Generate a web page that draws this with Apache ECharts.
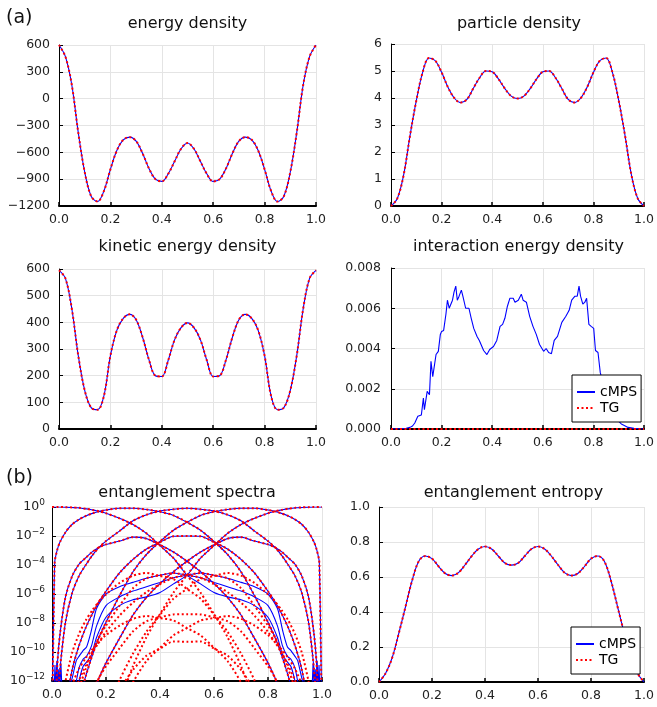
<!DOCTYPE html>
<html><head><meta charset="utf-8">
<script src="https://cdn.jsdelivr.net/npm/echarts@6/dist/echarts.min.js"></script>
<style>html,body{margin:0;padding:0;background:#fff}#c{width:657px;height:707px}</style>
</head><body><div id="c"></div>
<script>
// ---------- panel (a) data ----------
const xFine = [0,0.025,0.05,0.075,0.1,0.125,0.15,0.175,0.2,0.225,0.25,0.275,0.3,0.325,0.35,0.375,0.4,0.425,0.45,0.475,0.5,0.525,0.55,0.575,0.6,0.625,0.65,0.675,0.7,0.725,0.75,0.775,0.8,0.825,0.85,0.875,0.9,0.925,0.95,0.975,1];
const energyDensity = [600,470,150,-380,-820,-1090,-1150,-1030,-790,-580,-460,-430,-475,-610,-780,-900,-925,-840,-700,-560,-495,-560,-700,-840,-925,-900,-780,-610,-475,-430,-460,-580,-790,-1030,-1150,-1090,-820,-380,150,470,600];
const particleDensity = [0,0.28,1.15,2.6,3.9,4.95,5.48,5.38,4.95,4.4,4.0,3.83,3.95,4.35,4.75,5.0,4.97,4.7,4.35,4.07,3.98,4.07,4.35,4.7,4.97,5.0,4.75,4.35,3.95,3.83,4.0,4.4,4.95,5.38,5.48,4.95,3.9,2.6,1.15,0.28,0];
const kineticDensity = [595,565,450,275,145,80,72,125,275,370,415,430,410,345,260,200,197,258,335,380,398,380,335,258,197,200,260,345,410,430,415,370,275,125,72,80,145,275,450,565,595];
const entropy = [0,0.05,0.14,0.28,0.43,0.58,0.69,0.72,0.705,0.66,0.62,0.608,0.625,0.67,0.72,0.76,0.774,0.76,0.72,0.68,0.668,0.68,0.72,0.76,0.774,0.76,0.72,0.67,0.625,0.608,0.62,0.66,0.705,0.72,0.69,0.58,0.43,0.28,0.14,0.05,0];

const interX = [0,0.02,0.04,0.06,0.075,0.085,0.094,0.106,0.12,0.128,0.132,0.143,0.152,0.158,0.165,0.178,0.187,0.195,0.2,0.208,0.217,0.223,0.23,0.243,0.249,0.256,0.262,0.269,0.278,0.284,0.295,0.308,0.317,0.327,0.34,0.349,0.356,0.366,0.379,0.39,0.405,0.418,0.431,0.441,0.45,0.46,0.47,0.483,0.49,0.503,0.515,0.522,0.535,0.548,0.561,0.574,0.587,0.603,0.613,0.623,0.634,0.645,0.658,0.675,0.691,0.704,0.714,0.727,0.736,0.743,0.749,0.758,0.766,0.773,0.782,0.791,0.801,0.808,0.818,0.827,0.85,0.87,0.89,0.91,0.918,0.937,0.96,0.98,1.0];
const interCMPS = [0.00001,0.00001,0.00002,0.00004,0.00008,0.00015,0.0003,0.00063,0.0007,0.00154,0.00096,0.00187,0.0017,0.00336,0.0026,0.0037,0.00386,0.0047,0.00485,0.0049,0.0057,0.0064,0.006,0.0064,0.0068,0.0071,0.0064,0.0066,0.0069,0.0066,0.006,0.006,0.0055,0.005,0.0046,0.0044,0.0044,0.0039,0.0037,0.00395,0.0041,0.0044,0.0051,0.0052,0.0055,0.0061,0.0065,0.0065,0.0063,0.0064,0.0067,0.0064,0.0063,0.0056,0.0051,0.0047,0.0042,0.00386,0.004,0.0038,0.00374,0.0044,0.0046,0.0053,0.0056,0.0059,0.0064,0.0066,0.0066,0.0071,0.0066,0.0062,0.0063,0.0065,0.0052,0.0051,0.005,0.0039,0.0038,0.0028,0.0017,0.001,0.0005,0.00025,0.0002,0.00008,0.00003,0.00001,0];
const interTGx = [0,1];
const interTG = [0,0];

// ---------- panel (b) entanglement spectra: values are -log10(lambda) ----------
const specX = [0,0.01,0.02,0.03,0.05,0.075,0.1,0.125,0.15,0.175,0.2,0.25,0.3,0.35,0.4,0.45,0.5,0.55,0.6,0.65,0.7,0.75,0.8,0.825,0.85,0.875,0.9,0.925,0.95,0.97,0.98,0.99,1.0];
const tgE    = [0,0,0,0,0.01,0.03,0.06,0.12,0.2,0.3,0.43,0.78,1.21,1.82,2.66,3.53,4.70,5.90,7.38,8.97,10.97,13.52,16,16,16,16,16,16,16,16,16,16,16];
const tg1234 = [16,16,16,16,16,16,16,16,16,16,16,13.52,10.97,8.97,7.38,5.90,4.70,3.53,2.66,1.82,1.21,0.78,0.43,0.3,0.2,0.12,0.06,0.03,0.01,0,0,0,0];
const tg1    = [16,3.82,2.92,2.40,1.74,1.19,0.86,0.62,0.44,0.3,0.21,0.09,0.09,0.17,0.33,0.58,1.05,1.60,2.38,3.27,4.47,6.12,7.95,8.95,10.19,11.67,13.36,15.64,16,16,16,16,16];
const tg123  = [16,16,16,16,16,15.64,13.36,11.67,10.19,8.95,7.95,6.12,4.47,3.27,2.38,1.60,1.05,0.58,0.33,0.17,0.09,0.09,0.21,0.3,0.44,0.62,0.86,1.19,1.74,2.40,2.92,3.82,16];
const tg2    = [16,15,10.8,8.7,6.2,4.75,3.95,3.5,3.08,2.77,2.58,2.35,2.08,2.18,2.61,3.11,3.74,4.46,5.28,6.23,7.45,9.06,10.75,11.75,12.89,14.27,15.76,16,16,16,16,16,16];
const tg124  = [16,16,16,16,16,16,15.76,14.27,12.89,11.75,10.75,9.06,7.45,6.23,5.28,4.46,3.74,3.11,2.61,2.18,2.08,2.35,2.58,2.77,3.08,3.5,3.95,4.75,6.2,8.7,10.8,15,16];
const tg3    = [16,16,15.5,14,12.01,10.03,8.76,7.82,7.1,6.5,6.03,5.24,4.73,4.55,4.76,4.97,5.65,6.32,7.43,8.60,10.11,11.95,14.21,15.5,16,16,16,16,16,16,16,16,16];
const tg134  = [16,16,16,16,16,16,16,16,16,15.5,14.21,11.95,10.11,8.60,7.43,6.32,5.65,4.97,4.76,4.55,4.73,5.24,6.03,6.5,7.1,7.82,8.76,10.03,12.01,14,15.5,16,16];
const tg4    = [16,16,16,16,13.71,12.23,11.16,10.42,9.8,9.3,8.83,8.18,7.71,7.52,7.66,7.83,8.35,8.85,9.71,10.62,12.1,14.21,16,16,16,16,16,16,16,16,16,16,16];
const tg234  = [16,16,16,16,16,16,16,16,16,16,16,14.21,12.1,10.62,9.71,8.85,8.35,7.83,7.66,7.52,7.71,8.18,8.83,9.3,9.8,10.42,11.16,12.23,13.71,16,16,16,16];
const tg12   = [16,16,13.7,11.1,7.93,5.91,4.75,4.0,3.32,2.77,2.35,1.66,0.95,0.53,0.28,0.16,0.09,0.16,0.28,0.53,0.95,1.66,2.35,2.77,3.32,4.0,4.75,5.91,7.93,11.1,13.7,16,16];
const tg13   = [16,16,16,16,13.74,11.19,9.56,8.32,7.34,6.5,5.81,4.55,3.61,2.90,2.43,2.02,2.0,2.02,2.43,2.90,3.61,4.55,5.81,6.5,7.34,8.32,9.56,11.19,13.74,16,16,16,16];
const tg14   = [16,16,16,16,15.44,13.39,11.96,10.92,10.04,9.3,8.61,7.49,6.59,5.87,5.33,4.88,4.70,4.55,4.71,4.92,5.6,6.81,8.18,8.95,9.95,11.17,12.56,14.48,16,16,16,16,16];
const tg23   = [16,16,16,16,16,14.48,12.56,11.17,9.95,8.95,8.18,6.81,5.6,4.92,4.71,4.55,4.70,4.88,5.33,5.87,6.59,7.49,8.61,9.3,10.04,10.92,11.96,13.39,15.44,16,16,16,16];
const tg24   = [16,16,16,16,16,16,14.96,13.77,12.65,11.75,10.98,9.75,8.58,7.88,7.61,7.41,7.39,7.41,7.61,7.88,8.58,9.75,10.98,11.75,12.65,13.77,14.96,16,16,16,16,16,16];
const tg34   = [16,16,16,16,16,16,16,16,16,15.5,14.43,12.64,11.23,10.25,9.76,9.27,9.30,9.27,9.76,10.25,11.23,12.64,14.43,15.5,16,16,16,16,16,16,16,16,16];

// cMPS curves that leave the TG ones in the small-eigenvalue tails
const cmTailX = [0,0.05,0.072,0.09,0.1,0.115,0.128,0.146,0.165,0.2,0.25,0.3,0.35,0.4,0.45,0.5,0.55,0.6,0.65,0.7,0.75,0.8,0.835,0.854,0.872,0.885,0.9,0.91,0.928,0.95,1];
const cmE    = [0,0.01,0.03,0.05,0.06,0.1,0.13,0.19,0.26,0.43,0.78,1.21,1.82,2.66,3.53,4.70,5.3,5.9,6.2,6.4,6.8,7.6,9.0,10.2,10.7,11.0,12.0,13,16,16,16];
const cm1234 = [16,16,16,13,12.0,11.0,10.7,10.2,9.0,7.6,6.8,6.4,6.2,5.9,5.3,4.70,3.53,2.66,1.82,1.21,0.78,0.43,0.26,0.19,0.13,0.1,0.06,0.05,0.03,0.01,0];
const cm23   = [16,13,12,10.6,10.3,9.9,9.65,8.5,7.0,6.0,5.5,5.2,4.92,4.71,4.55,4.70,4.88,5.2,5.5,5.8,6.2,6.8,8.2,9.6,10.3,10.5,11.1,12,13,14,16];
const cm14   = [16,14,13,12,11.1,10.5,10.3,9.6,8.2,6.8,6.2,5.8,5.5,5.2,4.88,4.70,4.55,4.71,4.92,5.2,5.5,6.0,7.0,8.5,9.65,9.9,10.3,10.6,12,13,16];
const noiseLX = [0.008,0.011,0.014,0.018,0.021,0.025,0.029,0.033,0.037];
const noiseL  = [12.6,10.9,12.6,10.6,12.6,11.2,12.6,10.8,12.6];
const noiseRX = [0.963,0.967,0.971,0.975,0.979,0.982,0.986,0.989,0.992];
const noiseR  = [12.6,10.8,12.6,11.2,12.6,10.6,12.6,10.9,12.6];

const xTickStep = 0.2;

const FONT = '"DejaVu Sans", "Liberation Sans", sans-serif';
const BLUE = '#0000ff', RED = '#ff0000';
const chart = echarts.init(document.getElementById('c'), null, {renderer:'canvas'});

const grids = [
  {left:59, top:45, width:257, height:161},
  {left:391, top:44, width:257, height:162},
  {left:59, top:269, width:257, height:160},
  {left:391, top:268, width:257, height:161},
  {left:52, top:507, width:270, height:174},
  {left:379, top:507, width:269, height:175}
];

function xAx(i){
  return {type:'value', gridIndex:i, min:0, max:1, interval:xTickStep,
    axisLine:{show:true, onZero:false, lineStyle:{color:'#000', width:2}},
    axisTick:{show:true, inside:true, length:4, lineStyle:{color:'#000', width:1.5}},
    axisLabel:{fontFamily:FONT, fontSize:12.5, color:'#222', margin:7, formatter:v=>v.toFixed(1)},
    splitLine:{show:true, lineStyle:{color:'#e4e4e4', width:1}}};
}
function yAx(i, min, max, interval, fmt, margin, extra){
  return Object.assign({type:'value', gridIndex:i, min:min, max:max, interval:interval,
    axisLine:{show:true, onZero:false, lineStyle:{color:'#000', width:1}},
    axisTick:{show:true, inside:true, length:4, lineStyle:{color:'#000', width:1}},
    axisLabel:{fontFamily:FONT, fontSize:12.5, color:'#222', margin:margin, formatter:fmt},
    splitLine:{show:true, lineStyle:{color:'#e4e4e4', width:1}}}, extra || {});
}
const minus = v => v < 0 ? '\u2212' + Math.abs(v) : String(v);

function pairs(xs, ys){ return xs.map((x,k)=>[x, ys[k]]); }
function cm(i, xs, ys, sm){
  return {type:'line', name:'cMPS', xAxisIndex:i, yAxisIndex:i, data:pairs(xs,ys), symbol:'none', showSymbol:false,
    smooth:sm, lineStyle:{color:BLUE, width:1.1}, itemStyle:{color:BLUE}, z:2, silent:true, animation:false, clip:true};
}
function tg(i, xs, ys, sm){
  return {type:'line', name:'TG', xAxisIndex:i, yAxisIndex:i, data:pairs(xs,ys), symbol:'none', showSymbol:false,
    smooth:sm, lineStyle:{color:RED, width:2, type:[2,2.5]}, itemStyle:{color:RED}, z:3, silent:true, animation:false, clip:true};
}

const series = [];
series.push(cm(0, xFine, energyDensity, 0.35), tg(0, xFine, energyDensity, 0.35));
series.push(cm(1, xFine, particleDensity, 0.35), tg(1, xFine, particleDensity, 0.35));
series.push(cm(2, xFine, kineticDensity, 0.35), tg(2, xFine, kineticDensity, 0.35));
series.push(cm(3, interX, interCMPS, false), tg(3, interTGx, interTG, false));
[tg1, tg123, tg2, tg124, tg12, tg13].forEach(a => series.push(cm(4, specX, a, 0.25)));
[cmE, cm1234, cm23, cm14].forEach(a => series.push(cm(4, cmTailX, a, 0.25)));
series.push(cm(4, noiseLX, noiseL, false), cm(4, noiseRX, noiseR, false));
[tgE, tg1234, tg1, tg123, tg2, tg124, tg3, tg134, tg4, tg234, tg12, tg13, tg14, tg23, tg24, tg34].forEach(a => series.push(tg(4, specX, a, 0.25)));
series.push(cm(5, xFine, entropy, 0.35), tg(5, xFine, entropy, 0.35));

function legendAt(left, top){
  return {orient:'vertical', left:left, top:top, itemWidth:18, itemHeight:14, itemGap:2,
    padding:[10,4,7,4], borderColor:'#000', borderWidth:1, backgroundColor:'#fff', borderRadius:0,
    itemStyle:{opacity:0, borderWidth:0},
    textStyle:{fontFamily:FONT, fontSize:14, color:'#000'}, data:['cMPS','TG'], selectedMode:false};
}

function label(text, x, y, size, align){
  return {type:'text', x:x, y:y, z:100, style:{text:text, font:size+'px ' + FONT, fill:'#111',
    textAlign:align, textVerticalAlign:'middle', align:align, verticalAlign:'middle'}};
}

chart.setOption({
  animation:false,
  backgroundColor:'#fff',
  grid:grids,
  xAxis:[0,1,2,3,4,5].map(xAx),
  yAxis:[
    yAx(0,-1200,600,300,minus,9),
    yAx(1,0,6,1,v=>String(v),9),
    yAx(2,0,600,100,v=>String(v),9),
    yAx(3,0,0.008,0.002,v=>v.toFixed(3),10),
    yAx(4,0,12,2,v=>'{b|10}{s|' + (v===0 ? '0' : '\u2212' + v) + '}',7,{inverse:true}),
    yAx(5,0,1,0.2,v=>v.toFixed(1),9)
  ],
  legend:[legendAt(572,375), legendAt(571,627)],
  series:series,
  graphic:[
    label('(a)', 6, 18, 19, 'left'),
    label('(b)', 6, 478, 19, 'left'),
    label('energy density', 187.5, 24, 16, 'center'),
    label('particle density', 519, 24, 16, 'center'),
    label('kinetic energy density', 187.5, 247, 16, 'center'),
    label('interaction energy density', 518.5, 247, 16, 'center'),
    label('entanglement spectra', 187, 492.5, 16, 'center'),
    label('entanglement entropy', 513.5, 492.5, 16, 'center')
  ]
});
chart.setOption({yAxis:[{},{},{},{},{axisLabel:{rich:{
  b:{fontFamily:FONT, fontSize:12.5, color:'#222'},
  s:{fontFamily:FONT, fontSize:9, color:'#222', padding:[0,0,8,0]}
}}},{}]});
</script></body></html>
